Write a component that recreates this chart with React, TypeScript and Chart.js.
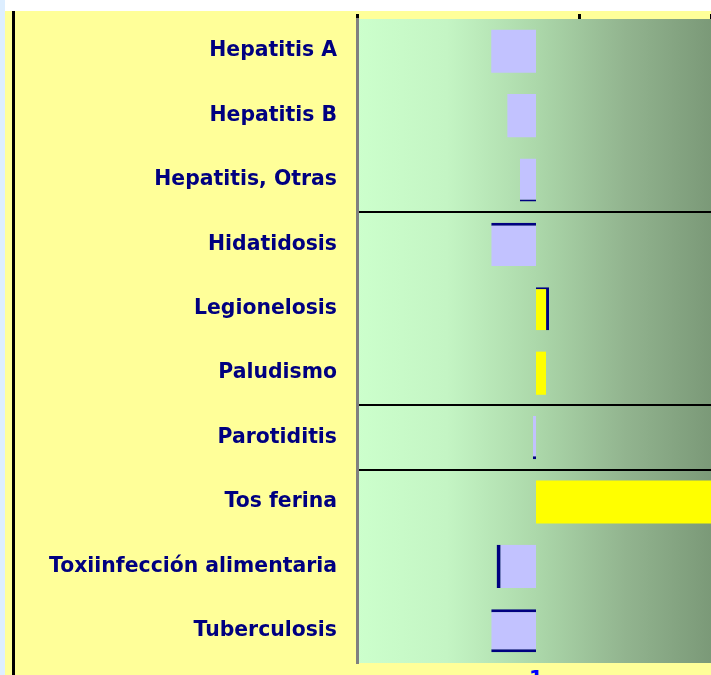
import React, { useEffect, useRef } from "react";
import { Chart, registerables } from "chart.js";

Chart.register(...registerables);

// ---- data ----
const categories = [
  "Hepatitis A",
  "Hepatitis B",
  "Hepatitis, Otras",
  "Hidatidosis",
  "Legionelosis",
  "Paludismo",
  "Parotiditis",
  "Tos ferina",
  "Toxiinfección alimentaria",
  "Tuberculosis",
];
const values = [0.75, 0.84, 0.91, 0.75, 1.073, 1.056, 0.983, 2.6, 0.78, 0.75];
const baseline = 1;
const bottomTickValues = [1];
const topTickValues = [0, 1, 1.595];
const groupBreaks = [3, 6, 7];

// ---- style ----
const LAVENDER = "#c2c2ff";
const YELLOW = "#ffff00";
const NAVY = "#000080";
const barEdges = [
  0,
  0,
  { top: 0, right: 0, bottom: 2, left: 0 },
  { top: 3, right: 0, bottom: 0, left: 0 },
  { top: 2, right: 3, bottom: 0, left: 0 },
  0,
  { top: 0, right: 0, bottom: 3, left: 0 },
  0,
  { top: 0, right: 0, bottom: 0, left: 4 },
  { top: 3, right: 0, bottom: 3, left: 0 },
];

const W = 720;
const H = 675;

const backgroundPlugin = {
  id: "bgPaint",
  beforeDraw(chart: any) {
    const { ctx, chartArea } = chart;
    ctx.save();
    ctx.fillStyle = "#ffffff";
    ctx.fillRect(0, 0, W, H);
    ctx.fillStyle = "#ffff99";
    ctx.fillRect(5, 11, W, H);
    ctx.fillStyle = "#ddeeff";
    ctx.fillRect(0, 0, 5, H);
    ctx.fillStyle = "#000000";
    ctx.fillRect(12, 11, 3, H);
    const g = ctx.createLinearGradient(chartArea.left, 0, chartArea.right, 0);
    g.addColorStop(0, "#ccffcc");
    g.addColorStop(0.25, "#c4f5c4");
    g.addColorStop(0.5, "#acd8aa");
    g.addColorStop(0.75, "#92b48f");
    g.addColorStop(1, "#7a9877");
    ctx.fillStyle = g;
    ctx.fillRect(
      chartArea.left,
      chartArea.top,
      chartArea.right - chartArea.left,
      chartArea.bottom - chartArea.top
    );
    ctx.restore();
  },
};

const zeroPad = (s: any) => {
  s.paddingTop = 0;
  s.paddingBottom = 0;
  s.paddingLeft = 0;
  s.paddingRight = 0;
};

export default function App() {
  const ref = useRef<HTMLCanvasElement | null>(null);

  useEffect(() => {
    if (!ref.current) return;
    const labelFont = { family: "'DejaVu Sans', sans-serif", weight: "bold" as const, size: 20.4 };
    const chart = new Chart(ref.current, {
      type: "bar",
      data: {
        labels: categories,
        datasets: [
          {
            data: values.map((v) => [baseline, v]) as any,
            backgroundColor: values.map((v) => (v < baseline ? LAVENDER : YELLOW)),
            borderColor: NAVY,
            borderWidth: barEdges as any,
            borderSkipped: false,
            barPercentage: 0.67,
            categoryPercentage: 1,
            xAxisID: "x",
          },
        ],
      },
      options: {
        indexAxis: "y",
        responsive: false,
        animation: false,
        layout: { padding: { left: 0, right: 5, top: 0, bottom: 0 } },
        plugins: { legend: { display: false }, tooltip: { enabled: false } },
        scales: {
          y: {
            type: "category",
            position: "left",
            grid: {
              offset: true,
              drawTicks: false,
              lineWidth: 2,
              color: (c: any) => (groupBreaks.includes(c.index) ? "#000000" : "rgba(0,0,0,0)"),
            },
            border: { color: "#808080", width: 3 },
            ticks: { color: NAVY, font: labelFont, padding: 20 },
            afterFit: (s: any) => {
              s.width = 357;
              zeroPad(s);
            },
          },
          x: {
            type: "linear",
            position: "bottom",
            min: 0,
            max: 2,
            grid: { display: false },
            border: { display: false },
            ticks: { color: "#0000ff", font: labelFont, padding: -3 },
            afterBuildTicks: (s: any) => {
              s.ticks = bottomTickValues.map((v) => ({ value: v }));
            },
            afterFit: (s: any) => {
              s.height = 12;
              zeroPad(s);
            },
          },
          x2: {
            type: "linear",
            position: "top",
            min: 0,
            max: 1.6126,
            grid: { drawOnChartArea: false, drawTicks: true, tickLength: 5, color: "#000000", lineWidth: 3 },
            border: { display: false },
            ticks: { display: false },
            afterBuildTicks: (s: any) => {
              s.ticks = topTickValues.map((v) => ({ value: v }));
            },
            afterFit: (s: any) => {
              s.height = 19;
              zeroPad(s);
            },
          },
        },
      },
      plugins: [backgroundPlugin],
    });
    return () => chart.destroy();
  }, []);

  return (
    <div style={{ position: "absolute", left: 0, top: 0, width: 711, height: 675, overflow: "hidden" }}>
      <canvas ref={ref} width={W} height={H} style={{ display: "block", width: W, height: H }} />
    </div>
  );
}
